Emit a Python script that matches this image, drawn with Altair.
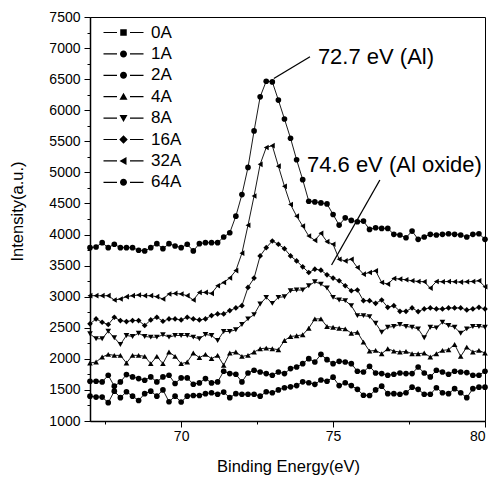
import altair as alt
import pandas as pd

# Energy grid of the spectra (eV)
energy_start = 67.0
energy_step = 0.2
n_points = 66
energies = [round(energy_start + energy_step * i, 1) for i in range(n_points)]

series_names = ["0A", "1A", "2A", "4A", "8A", "16A", "32A", "64A"]
marker_shapes = ["square", "circle", "circle", "triangle-up", "triangle-down",
                 "diamond", "triangle-left", "circle"]

intensity_1A = [1400, 1385, 1385, 1295, 1480, 1375, 1470, 1400, 1330, 1440, 1480, 1400,
                1500, 1310, 1400, 1305, 1400, 1410, 1410, 1440, 1455, 1430, 1465, 1375,
                1440, 1430, 1430, 1430, 1400, 1470, 1455, 1500, 1535, 1550, 1570, 1630,
                1615, 1590, 1660, 1640, 1705, 1570, 1615, 1570, 1510, 1415, 1410, 1500,
                1560, 1440, 1440, 1430, 1455, 1545, 1510, 1430, 1430, 1535, 1455, 1440,
                1520, 1455, 1375, 1520, 1545, 1545]
intensity_2A = [1640, 1640, 1629, 1736, 1560, 1629, 1747, 1709, 1683, 1656, 1709, 1629,
                1709, 1736, 1603, 1693, 1693, 1592, 1613, 1683, 1613, 1629, 1800, 1763,
                1752, 1629, 1773, 1816, 1789, 1763, 1736, 1789, 1763, 1843, 1869, 1923,
                2003, 1949, 2072, 1987, 1923, 1960, 1949, 1923, 1800, 1789, 1880, 1773,
                1763, 1736, 1752, 1773, 1763, 1763, 1869, 1773, 1709, 1816, 1789, 1752,
                1800, 1789, 1779, 1736, 1736, 1800]
intensity_4A = [1933, 1949, 2029, 2072, 2056, 2056, 1933, 2056, 2056, 2040, 1923, 2040,
                1923, 2109, 2040, 1923, 1949, 2093, 2019, 2072, 2003, 2056, 1896, 2093,
                2109, 2040, 2056, 2109, 2163, 2173, 2163, 2147, 2296, 2360, 2371, 2387,
                2493, 2643, 2643, 2520, 2509, 2493, 2483, 2413, 2429, 2269, 2125, 2136,
                2083, 2163, 2125, 2109, 2120, 2083, 2083, 2093, 2029, 2083, 2136, 2147,
                2232, 2040, 2189, 2109, 2136, 2093]
intensity_8A = [2403, 2323, 2323, 2445, 2339, 2232, 2376, 2360, 2413, 2360, 2349, 2349,
                2387, 2349, 2376, 2376, 2376, 2349, 2323, 2392, 2376, 2296, 2440, 2440,
                2467, 2552, 2643, 2712, 2883, 2989, 2893, 2989, 3000, 3096, 3107, 3107,
                3176, 3240, 3203, 3139, 2989, 2947, 2936, 2856, 2696, 2696, 2680, 2573,
                2429, 2509, 2520, 2552, 2520, 2509, 2483, 2339, 2509, 2499, 2589, 2536,
                2509, 2413, 2483, 2520, 2520, 2509]
intensity_16A = [2563, 2643, 2589, 2552, 2669, 2616, 2600, 2616, 2616, 2536, 2627, 2669,
                 2605, 2643, 2643, 2627, 2669, 2643, 2627, 2643, 2696, 2723, 2723, 2776,
                 2819, 2856, 3149, 3299, 3656, 3789, 3896, 3843, 3773, 3656, 3576, 3480,
                 3389, 3443, 3427, 3352, 3299, 3256, 3176, 3096, 3107, 2936, 2936, 2893,
                 2947, 2829, 2856, 2765, 2765, 2819, 2760, 2803, 2819, 2803, 2803, 2819,
                 2819, 2819, 2787, 2803, 2829, 2803]
intensity_32A = [3016, 3016, 3016, 3016, 2947, 2963, 3000, 3016, 3027, 3016, 3016, 3000,
                 2963, 3043, 3053, 3043, 3016, 2947, 3069, 3069, 3053, 3176, 3229, 3300,
                 3420, 3700, 4150, 4620, 5130, 5400, 5430, 5100, 4776, 4483, 4296, 4136,
                 3976, 3907, 4019, 3885, 3843, 3603, 3576, 3603, 3469, 3363, 3389, 3416,
                 3229, 3203, 3293, 3283, 3272, 3256, 3245, 3240, 3139, 3245, 3240, 3245,
                 3240, 3235, 3240, 3245, 3256, 3160]
intensity_64A = [3789, 3800, 3869, 3789, 3843, 3789, 3789, 3789, 3747, 3736, 3789, 3853,
                 3773, 3853, 3816, 3789, 3843, 3736, 3853, 3869, 3869, 3869, 3960, 4029,
                 4296, 4643, 5080, 5667, 6216, 6467, 6456, 6163, 5859, 5549, 5203, 4883,
                 4536, 4525, 4509, 4493, 4323, 4152, 4269, 4227, 4205, 4216, 4083, 4109,
                 4099, 4099, 4003, 3992, 3949, 4056, 3923, 3960, 4003, 3992, 4003, 4013,
                 4003, 3992, 3960, 4003, 4013, 3923]

# 0A is listed in the legend only
series_values = {
    "1A": intensity_1A, "2A": intensity_2A, "4A": intensity_4A, "8A": intensity_8A,
    "16A": intensity_16A, "32A": intensity_32A, "64A": intensity_64A,
}

# Peak annotations and their leader lines
ann_text = ["72.7 eV (Al)", "74.6 eV (Al oxide)"]
ann_energy = [74.5, 74.14]
ann_intensity = [6850, 5120]
lead_energy = [73.05, 74.95]
lead_intensity = [6510, 3510]
lead_energy2 = [74.24, 76.54]
lead_intensity2 = [6860, 4878]

rows = []
for name, vals in series_values.items():
    for e, v in zip(energies, vals):
        rows.append({"energy": e, "intensity": v, "series": name})
df = pd.DataFrame(rows)

ann_df = pd.DataFrame({"energy": ann_energy, "intensity": ann_intensity, "text": ann_text})
lead_df = pd.DataFrame({"energy": lead_energy, "intensity": lead_intensity,
                        "energy2": lead_energy2, "intensity2": lead_intensity2})

# Legend glyphs: marker flanked by two short line pieces
side_bars = "M-4,-0.12H-1.3V0.12H-4Z M1.3,-0.12H4V0.12H1.3Z "
glyphs = {
    "square": "M-0.65,-0.65H0.65V0.65H-0.65Z",
    "circle": "M0.7,0A0.7,0.7,0,1,1,-0.7,0A0.7,0.7,0,1,1,0.7,0Z",
    "triangle-up": "M0,-0.8L0.8,0.6L-0.8,0.6Z",
    "triangle-down": "M0,0.8L0.8,-0.6L-0.8,-0.6Z",
    "diamond": "M0,-0.85L0.85,0L0,0.85L-0.85,0Z",
    "triangle-left": "M-0.8,0L0.6,-0.8L0.6,0.8Z",
}
legend_paths = [side_bars + glyphs[s] for s in marker_shapes]

FONT = "Liberation Sans"

x_enc = alt.X(
    "energy:Q",
    scale=alt.Scale(domain=[67, 80], nice=False, zero=False),
    axis=alt.Axis(
        title="Binding Energy(eV)",
        values=[67.5, 70, 72.5, 75, 77.5, 80],
        labelExpr="datum.value % 5 == 0 ? datum.label : ''",
        tickSize={"condition": {"test": "datum.value % 5 != 0", "value": 3}, "value": 6},
        labelPadding=2,
        titleX=198, titleY=45, titleBaseline="middle", titleAlign="center",
    ),
)
y_enc = alt.Y(
    "intensity:Q",
    scale=alt.Scale(domain=[1000, 7500], nice=False, zero=False),
    axis=alt.Axis(
        title="Intensity(a.u.)",
        values=list(range(1000, 7501, 250)),
        format="d",
        labelExpr="datum.value % 500 == 0 ? datum.label : ''",
        tickSize={"condition": {"test": "datum.value % 500 != 0", "value": 3}, "value": 6},
        labelPadding=4,
        titleX=-73, titleY=194, titleBaseline="middle", titleAlign="center",
    ),
)

lines = alt.Chart(df).mark_line(color="black", strokeWidth=0.9).encode(
    x=x_enc, y=y_enc, detail="series:N"
)
points = alt.Chart(df).mark_point(filled=True, color="black", size=32, opacity=1).encode(
    x=x_enc, y=y_enc,
    shape=alt.Shape("series:N", scale=alt.Scale(domain=series_names, range=marker_shapes),
                    legend=None),
)
legend_layer = alt.Chart(df).transform_filter("false").mark_point(
    filled=True, color="black", opacity=1
).encode(
    x=x_enc, y=y_enc,
    shape=alt.Shape(
        "series:N",
        scale=alt.Scale(domain=series_names, range=legend_paths),
        legend=alt.Legend(
            title=None, orient="none", legendX=25, legendY=7, padding=0,
            symbolSize=100, symbolStrokeWidth=0, symbolFillColor="black",
            symbolOpacity=1, labelFont=FONT, labelFontSize=17, labelColor="black",
            labelOffset=19, rowPadding=3.4,
        ),
    ),
)
leaders = alt.Chart(lead_df).mark_rule(color="black", strokeWidth=1.3).encode(
    x=x_enc, y=y_enc, x2="energy2:Q", y2="intensity2:Q"
)
labels = alt.Chart(ann_df).mark_text(
    align="left", baseline="middle", font=FONT, fontSize=22, color="black"
).encode(x=x_enc, y=y_enc, text="text:N")

chart = (
    alt.layer(lines, points, legend_layer, leaders, labels)
    .resolve_scale(shape="independent")
    .properties(
        width=395, height=404,
        autosize=alt.AutoSizeParams(type="none"),
        padding={"left": 90, "top": 17, "right": 6, "bottom": 56},
        background="white",
    )
    .configure_view(stroke="black", strokeWidth=1)
    .configure_axis(
        grid=False, domainColor="black", domainWidth=1.5, tickColor="black", tickWidth=1,
        labelFont=FONT, labelFontSize=14, labelColor="black",
        titleFont=FONT, titleFontSize=16.5, titleFontWeight="normal", titleColor="black",
    )
)

chart.save("out.html", embed_options={"renderer": "svg", "actions": False})
